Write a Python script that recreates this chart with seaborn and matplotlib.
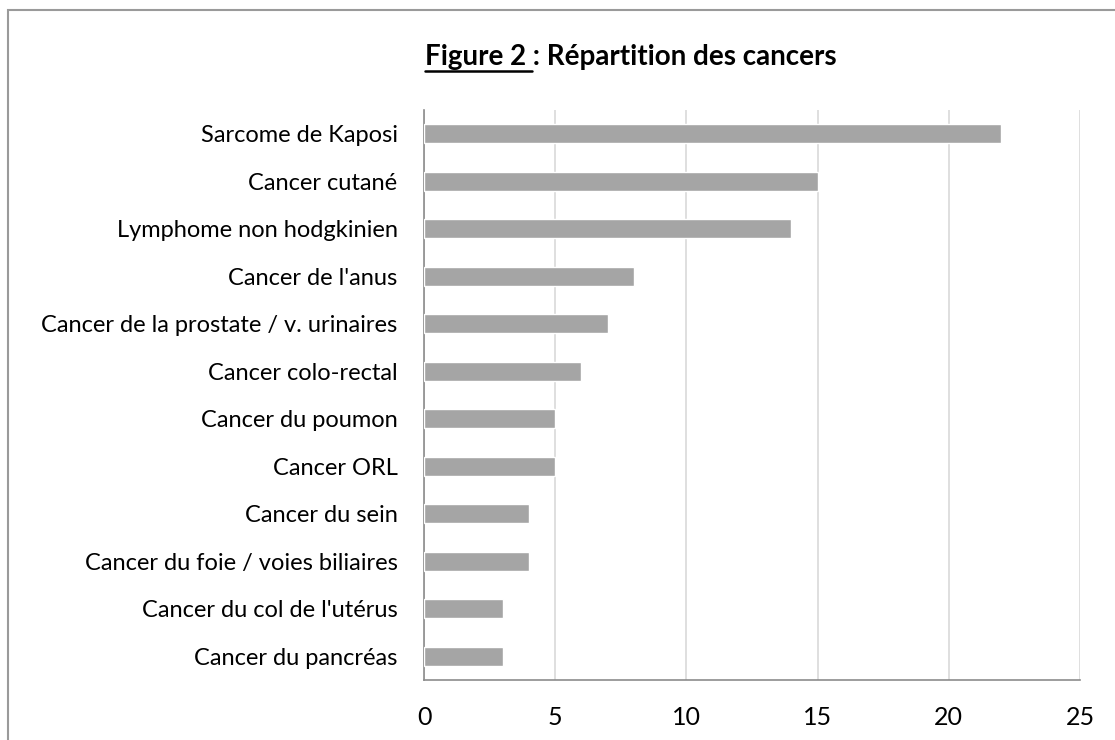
import matplotlib
matplotlib.use("Agg")
import matplotlib.pyplot as plt
import seaborn as sns
import pandas as pd
from matplotlib.patches import Rectangle
from matplotlib.lines import Line2D

categories = [
    "Sarcome de Kaposi",
    "Cancer cutané",
    "Lymphome non hodgkinien",
    "Cancer de l'anus",
    "Cancer de la prostate / v. urinaires",
    "Cancer colo-rectal",
    "Cancer du poumon",
    "Cancer ORL",
    "Cancer du sein",
    "Cancer du foie / voies biliaires",
    "Cancer du col de l'utérus",
    "Cancer du pancréas",
]
values = [22, 15, 14, 8, 7, 6, 5, 5, 4, 4, 3, 3]
x_ticks = [0, 5, 10, 15, 20, 25]

sns.set_theme(style="white")
plt.rcParams["font.family"] = ["Lato", "DejaVu Sans"]
plt.rcParams["text.color"] = "black"

df = pd.DataFrame({"cat": categories, "val": values})

fig = plt.figure(figsize=(11.15, 7.4), dpi=100)
ax = fig.add_axes([424 / 1115, 60 / 740, 656 / 1115, 570 / 740])

sns.barplot(data=df, x="val", y="cat", orient="h", color="#a5a5a5",
            width=0.4, saturation=1, ax=ax, zorder=3)

ax.set_xlim(0, 25)
ax.set_ylim(len(categories) - 0.5, -0.5)
ax.set_xticks(x_ticks)
ax.set_xticklabels([str(t) for t in x_ticks])
ax.xaxis.grid(True, color="#d9d9d9", linewidth=1.2, zorder=0)
ax.yaxis.grid(False)
ax.set_xlabel("")
ax.set_ylabel("")
for s in ["top", "right"]:
    ax.spines[s].set_visible(False)
for s in ["left", "bottom"]:
    ax.spines[s].set_color("#8c8c8c")
    ax.spines[s].set_linewidth(1.2)
ax.tick_params(axis="x", length=0, pad=19, labelsize=18, colors="black")
ax.tick_params(axis="y", length=0, pad=19, labelsize=17, colors="black")

# outer frame
fig.patches.append(Rectangle((8 / 1115, -0.1), 1.2, (740 - 10) / 740 + 0.1,
                             transform=fig.transFigure, fill=False,
                             edgecolor="#9a9a9a", linewidth=1.5))

# title with underlined "Figure 2"
ty = 1 - 57 / 740
t1 = fig.text(425 / 1115, ty, "Figure 2", fontsize=20,
              fontweight="bold", ha="left", va="center", color="black")
fig.canvas.draw()
r = fig.canvas.get_renderer()
bb1 = t1.get_window_extent(renderer=r)
x2 = bb1.x1 / fig.bbox.width
t2 = fig.text(x2, ty, " : Répartition des cancers", fontsize=20,
              fontweight="bold", ha="left", va="center", color="black")
fig.canvas.draw()
bb2 = t1.get_window_extent(renderer=r)
ul_y = (bb2.y0 - 1) / fig.bbox.height
space_w = 6 / fig.bbox.width
fig.lines.append(Line2D([bb2.x0 / fig.bbox.width, bb2.x1 / fig.bbox.width + space_w],
                        [ul_y, ul_y], transform=fig.transFigure,
                        color="black", linewidth=1.8))

fig.savefig("out.png", dpi=100)
